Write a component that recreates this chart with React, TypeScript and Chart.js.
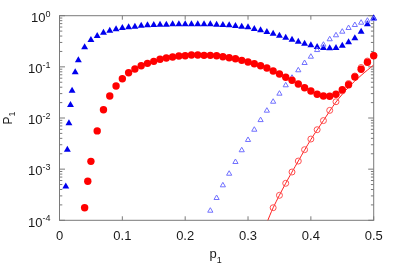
import React, { useEffect, useRef } from 'react';
import { Chart, registerables } from 'chart.js';

Chart.register(...registerables);

const FONT = "'Liberation Sans', Arial, Helvetica, sans-serif";
const TEXT = '#1a1a1a';
const FRAME = '#7a7a7a';

// ---- data ----
const blueX = [0.01, 0.0125, 0.015, 0.0175, 0.02, 0.025, 0.03, 0.04, 0.05, 0.06, 0.07, 0.08, 0.09, 0.10,
  0.11, 0.12, 0.13, 0.14, 0.15, 0.16, 0.17, 0.18, 0.19, 0.20, 0.21, 0.22, 0.23, 0.24, 0.25, 0.26, 0.27,
  0.28, 0.29, 0.30, 0.31, 0.32, 0.33, 0.34, 0.35, 0.36, 0.37, 0.38, 0.39, 0.40, 0.41, 0.42, 0.43, 0.44,
  0.45, 0.46, 0.47, 0.48, 0.49, 0.50];
const blueFilled = [4.6e-4, 2.4e-3, 7.9e-3, 0.018, 0.034, 0.078, 0.134, 0.241, 0.335, 0.401, 0.465, 0.509,
  0.542, 0.575, 0.593, 0.610, 0.637, 0.649, 0.658, 0.667, 0.667, 0.679, 0.679, 0.68, 0.68, 0.68, 0.679,
  0.679, 0.667, 0.658, 0.649, 0.629, 0.610, 0.593, 0.550, 0.518, 0.480, 0.445, 0.406, 0.371, 0.339, 0.310,
  0.284, 0.264, 0.244, 0.234, 0.231, 0.234, 0.259, 0.302, 0.361, 0.487, 0.679, 0.889];

const redX = [0.04, 0.045, 0.05, 0.06, 0.07, 0.08, 0.09, 0.10, 0.11, 0.12, 0.13, 0.14, 0.15, 0.16, 0.17,
  0.18, 0.19, 0.20, 0.21, 0.22, 0.23, 0.24, 0.25, 0.26, 0.27, 0.28, 0.29, 0.30, 0.31, 0.32, 0.33, 0.34,
  0.35, 0.36, 0.37, 0.38, 0.39, 0.40, 0.41, 0.42, 0.43, 0.44, 0.45, 0.46, 0.47, 0.48, 0.49, 0.50];
const redFilled = [1.76e-4, 5.8e-4, 1.42e-3, 5.6e-3, 0.0145, 0.0269, 0.0422, 0.0587, 0.0769, 0.0908, 0.105,
  0.117, 0.128, 0.141, 0.149, 0.156, 0.163, 0.165, 0.171, 0.171, 0.168, 0.168, 0.165, 0.158, 0.151, 0.144,
  0.134, 0.124, 0.115, 0.105, 0.095, 0.083, 0.0725, 0.0625, 0.0546, 0.0462, 0.0391, 0.0337, 0.0291, 0.0269,
  0.0266, 0.0291, 0.0357, 0.0448, 0.0633, 0.0896, 0.123, 0.165];

const openTriX = [0.24, 0.25, 0.26, 0.27, 0.28, 0.29, 0.30, 0.31, 0.32, 0.33, 0.34, 0.35, 0.36, 0.37, 0.38,
  0.39, 0.40, 0.41, 0.42, 0.43, 0.44, 0.45, 0.46, 0.47, 0.48, 0.49, 0.50];
const openTri = [1.54e-4, 2.73e-4, 4.83e-4, 8.14e-4, 1.38e-3, 2.34e-3, 3.72e-3, 5.9e-3, 9.1e-3, 0.0139,
  0.0208, 0.0299, 0.0436, 0.0613, 0.0857, 0.119, 0.158, 0.213, 0.271, 0.346, 0.414, 0.487, 0.575, 0.658,
  0.730, 0.798, 0.862];

const openCircX = [0.34, 0.35, 0.36, 0.37, 0.38, 0.39, 0.40, 0.41, 0.42, 0.43, 0.44, 0.45, 0.46, 0.47,
  0.48, 0.49, 0.50];
const openCirc = [1.76e-4, 3.08e-4, 5.29e-4, 8.79e-4, 1.44e-3, 2.40e-3, 3.88e-3, 5.9e-3, 8.9e-3, 0.0141,
  0.0208, 0.0337, 0.0473, 0.0662, 0.097, 0.130, 0.167];

const fitX = [0.33, 0.34, 0.36, 0.38, 0.40, 0.42, 0.44, 0.46, 0.48, 0.50];
const fitY = [9.0e-5, 1.76e-4, 5.3e-4, 1.44e-3, 3.8e-3, 8.9e-3, 0.0205, 0.040, 0.068, 0.109];

const xTicks = [0, 0.1, 0.2, 0.3, 0.4, 0.5];
const yExponents = [0, -1, -2, -3, -4];
const yTickExpLabels = ['0', '-1', '-2', '-3', '-4'];

const pts = (xs: number[], ys: number[]) => xs.map((x, i) => ({ x, y: ys[i] }));

const decoPlugin = {
  id: 'deco',
  beforeDatasetsDraw(chart: any) {
    const { ctx, chartArea: a, scales } = chart;
    const xs = scales.x;
    const ys = scales.y;
    ctx.save();
    ctx.strokeStyle = FRAME;
    ctx.lineWidth = 1;
    ctx.strokeRect(a.left, a.top, a.right - a.left, a.bottom - a.top);
    ctx.beginPath();
    for (const v of xTicks) {
      const px = xs.getPixelForValue(v);
      ctx.moveTo(px, a.bottom);
      ctx.lineTo(px, a.bottom - 4);
      ctx.moveTo(px, a.top);
      ctx.lineTo(px, a.top + 4);
    }
    for (const e of yExponents) {
      for (let m = 1; m <= 9; m++) {
        const v = m * Math.pow(10, e);
        if (v > 1.0000001) continue;
        const py = ys.getPixelForValue(v);
        const len = m === 1 ? 5.5 : 2.8;
        ctx.moveTo(a.left, py);
        ctx.lineTo(a.left + len, py);
        ctx.moveTo(a.right, py);
        ctx.lineTo(a.right - len, py);
      }
    }
    ctx.stroke();
    ctx.restore();
  },
  afterDraw(chart: any) {
    const { ctx, chartArea: a, scales } = chart;
    const ys = scales.y;
    ctx.save();
    ctx.fillStyle = TEXT;
    ctx.textBaseline = 'alphabetic';
    ctx.textAlign = 'left';
    const right = 50.5;
    yExponents.forEach((e, i) => {
      const py = ys.getPixelForValue(Math.pow(10, e));
      const exp = yTickExpLabels[i];
      ctx.font = `9px ${FONT}`;
      const ew = ctx.measureText(exp).width;
      ctx.font = `13px ${FONT}`;
      const bw = ctx.measureText('10').width;
      ctx.fillText('10', right - ew - bw, py + 6.3);
      ctx.font = `9px ${FONT}`;
      ctx.fillText(exp, right - ew, py + 1);
    });
    // x title p_1
    ctx.font = `13px ${FONT}`;
    const pw = ctx.measureText('p').width;
    ctx.font = `9px ${FONT}`;
    const sw = ctx.measureText('1').width;
    const cx = (a.left + a.right) / 2 - 1;
    const sx = cx - (pw + sw) / 2;
    ctx.font = `13px ${FONT}`;
    ctx.fillText('p', sx, 258.4);
    ctx.font = `9px ${FONT}`;
    ctx.fillText('1', sx + pw, 262.7);
    // y title P_1
    ctx.translate(11.8, 124.5);
    ctx.rotate(-Math.PI / 2);
    ctx.font = `12px ${FONT}`;
    const Pw = ctx.measureText('P').width;
    ctx.fillText('P', 0, 0);
    ctx.font = `9px ${FONT}`;
    ctx.fillText('1', Pw, 3.5);
    ctx.restore();
  },
};

export default function App() {
  const ref = useRef<HTMLCanvasElement>(null);
  useEffect(() => {
    if (!ref.current) return;
    const chart = new Chart(ref.current, {
      type: 'scatter',
      data: {
        datasets: [
          {
            data: pts(redX, redFilled),
            pointStyle: 'circle',
            pointRadius: 3.7,
            backgroundColor: '#ff0000',
            borderColor: '#ff0000',
            borderWidth: 0,
            clip: false,
          } as any,
          {
            data: pts(openTriX, openTri),
            pointStyle: 'triangle',
            pointRadius: 3,
            backgroundColor: 'rgba(0,0,0,0)',
            borderColor: '#7070ff',
            borderWidth: 1,
            clip: false,
          },
          {
            data: pts(blueX, blueFilled),
            pointStyle: 'triangle',
            pointRadius: 4,
            backgroundColor: '#0000ee',
            borderColor: '#0000ee',
            borderWidth: 0,
            clip: false,
          },
          {
            data: pts(openCircX, openCirc),
            pointStyle: 'circle',
            pointRadius: 3,
            backgroundColor: 'rgba(0,0,0,0)',
            borderColor: '#ff5050',
            borderWidth: 1,
            clip: false,
          },
          {
            data: pts(fitX, fitY),
            showLine: true,
            pointRadius: 0,
            borderColor: '#ff2020',
            borderWidth: 1,
            tension: 0.3,
          } as any,
        ],
      },
      options: {
        responsive: false,
        animation: false,
        devicePixelRatio: 1,
        layout: { padding: { top: 15.7, right: 25.3, left: 0, bottom: 0 } },
        plugins: { legend: { display: false }, tooltip: { enabled: false } },
        scales: {
          x: {
            type: 'linear',
            min: 0,
            max: 0.5,
            grid: { display: false, drawTicks: false },
            border: { display: false },
            ticks: {
              stepSize: 0.1,
              padding: 8,
              maxRotation: 0,
              color: TEXT,
              font: { family: FONT, size: 13 },
            },
            afterFit: (s: any) => { s.height = 58.7; },
          },
          y: {
            type: 'logarithmic',
            min: 1e-4,
            max: 1,
            grid: { display: false, drawTicks: false },
            border: { display: false },
            ticks: { display: false },
            afterFit: (s: any) => { s.width = 59.5; },
          },
        },
      },
      plugins: [decoPlugin],
    });
    return () => chart.destroy();
  }, []);
  return (
    <div style={{ position: 'absolute', left: 0, top: 0, width: 399, height: 279 }}>
      <canvas ref={ref} width={399} height={279} style={{ display: 'block' }} />
    </div>
  );
}
